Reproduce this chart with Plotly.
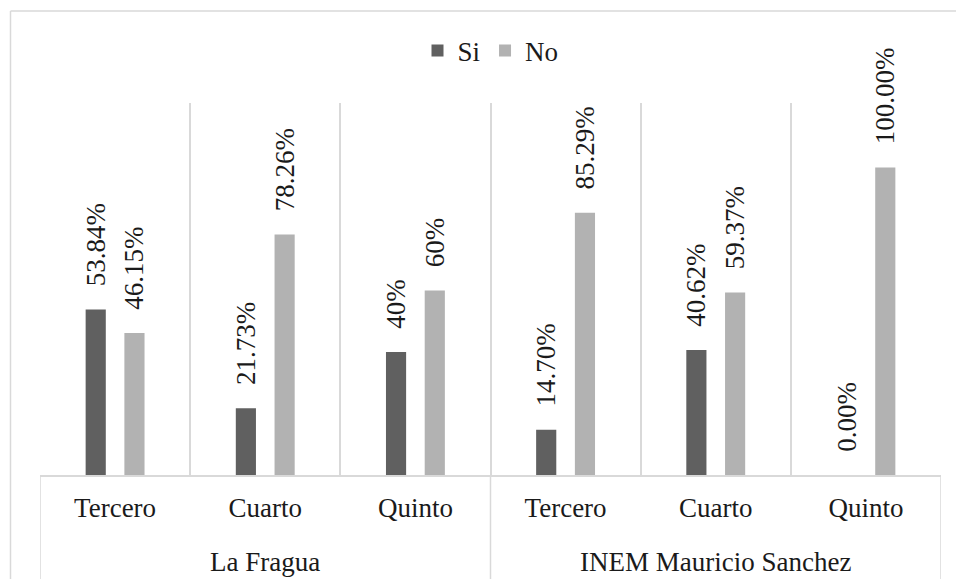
import plotly.graph_objects as go

groups = ["La Fragua"] * 3 + ["INEM Mauricio Sanchez"] * 3
grades = ["Tercero", "Cuarto", "Quinto", "Tercero", "Cuarto", "Quinto"]
si_values = [53.84, 21.73, 40, 14.70, 40.62, 0]
no_values = [46.15, 78.26, 60, 85.29, 59.37, 100]
si_labels = ["53.84%", "21.73%", "40%", "14.70%", "40.62%", "0.00%"]
no_labels = ["46.15%", "78.26%", "60%", "85.29%", "59.37%", "100.00%"]

SERIF = "Liberation Serif"
PAD = "\u00a0\u00a0\u00a0"
GRID = "#d9d9d9"
INK = "#1a1a1a"

idx = list(range(len(grades)))
bounds = [i - 0.5 for i in range(len(grades) + 1)]

# group spans
group_names = []
group_pos = {}
for i, g in enumerate(groups):
    if g not in group_pos:
        group_names.append(g)
        group_pos[g] = []
    group_pos[g].append(i)
group_centers = [sum(group_pos[g]) / len(group_pos[g]) for g in group_names]
group_edges = sorted({min(group_pos[g]) - 0.5 for g in group_names} |
                     {max(group_pos[g]) + 0.5 for g in group_names})

label_font = dict(family=SERIF, size=27, color=INK)

fig = go.Figure()
for name, vals, labs, col in [("Si", si_values, si_labels, "#606060"),
                              ("No", no_values, no_labels, "#b2b2b2")]:
    fig.add_trace(go.Bar(
        name=name, x=idx, y=vals, text=labs,
        texttemplate=PAD + "%{text}", textposition="outside", textangle=-90,
        constraintext="none", cliponaxis=False,
        textfont=label_font, outsidetextfont=label_font,
        marker=dict(color=col, line=dict(width=0)),
        hoverinfo="skip",
    ))

L, R, T, B = 40, 15, 103, 104
W, H = 956, 579
pw, ph = W - L - R, H - T - B

annotations = [
    dict(x=c, xref="x", y=-(562 - (H - B)) / ph, yref="paper",
         text=g, showarrow=False, yanchor="middle", xanchor="center",
         font=dict(family=SERIF, size=27, color=INK))
    for g, c in zip(group_names, group_centers)
]

shapes = [
    dict(type="line", xref="x", yref="paper", x0=e, x1=e,
         y0=0, y1=-(B + 10) / ph, line=dict(color=GRID, width=1.5))
    for e in group_edges
]
shapes += [
    dict(type="line", xref="paper", yref="paper",
         x0=(10.5 - L) / pw, x1=1 + (R + 20) / pw,
         y0=1 + (T - 11) / ph, y1=1 + (T - 11) / ph,
         line=dict(color=GRID, width=1.5)),
    dict(type="line", xref="paper", yref="paper",
         x0=(10.5 - L) / pw, x1=(10.5 - L) / pw,
         y0=1 + (T - 11) / ph, y1=-(B + 20) / ph,
         line=dict(color=GRID, width=1.5)),
]

fig.update_layout(
    width=W, height=H,
    margin=dict(l=L, r=R, t=T, b=B, pad=0, autoexpand=False),
    paper_bgcolor="white", plot_bgcolor="white",
    barmode="group", bargap=0.484, bargroupgap=0.48,
    font=dict(family=SERIF, size=27, color=INK),
    showlegend=True,
    legend=dict(orientation="h", x=0.5, xanchor="center",
                y=1 + (T - 51) / ph, yanchor="middle",
                font=dict(family=SERIF, size=27, color=INK),
                itemwidth=30, bgcolor="rgba(0,0,0,0)"),
    xaxis=dict(range=[bounds[0], bounds[-1]], tickvals=idx, ticktext=grades,
               showgrid=False, zeroline=False, showline=True,
               linecolor=GRID, linewidth=1.5, ticks="", ticklabelstandoff=8,
               tickfont=dict(family=SERIF, size=27, color=INK),
               minor=dict(tickvals=bounds, showgrid=True, gridcolor=GRID,
                          gridwidth=1.5, ticks="")),
    yaxis=dict(visible=False, range=[0, 121], showgrid=False, zeroline=False),
    annotations=annotations,
    shapes=shapes,
)

fig.write_html("out.html", config={"displayModeBar": False},
               post_script="document.body.style.margin='0';")
